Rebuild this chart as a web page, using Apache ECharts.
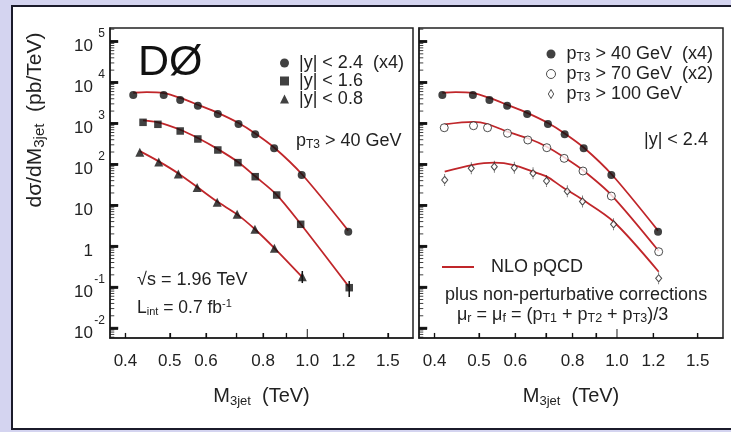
<!DOCTYPE html>
<html><head><meta charset="utf-8">
<script src="https://cdn.jsdelivr.net/npm/echarts@6/dist/echarts.min.js"></script>
<style>
html,body{margin:0;padding:0;background:#d4d4f0;overflow:hidden;}
#frame{position:absolute;left:11px;top:5px;width:740px;height:421px;border:2px solid #1b1b2b;background:#fff;}
#c{position:absolute;left:0;top:0;width:731px;height:432px;}
</style>
</head><body><div id="frame"></div><div id="c"></div>
<script>
// ---------- axes / ticks ----------
const X_MIN = 0.370, X_MAX = 1.703;
const Y_MIN = 0.00573, Y_MAX = 213800;
const X_EDGE = 0.3705, Y_EDGE = 0.00575;   // just inside the axis extent
const xTickValues = [0.4, 0.5, 0.6, 0.7, 0.8, 0.9, 1.2, 1.5];
const xLongTickValues = [1.0];
const xLabelValues = [0.4, 0.5, 0.6, 0.8, 1.0, 1.2, 1.5];
const yMajorValues = [1e-2, 1e-1, 1, 10, 100, 1000, 1e4, 1e5];
const yMinorMult = [2, 3, 4, 5, 6, 7, 8, 9];
const yMinorDecades = [1e-3, 1e-2, 1e-1, 1, 10, 100, 1000, 1e4, 1e5];

// ---------- data: left panel (pT3 > 40 GeV) ----------
const y24X = [0.416, 0.485, 0.527, 0.576, 0.637, 0.707, 0.769, 0.846, 0.972, 1.229];
const y24  = [4935, 4935, 3724, 2704, 1687, 966, 541, 246, 54.8, 2.26];      // |y|<2.4 (x4)
const y16X = [0.437, 0.471, 0.527, 0.576, 0.637, 0.705, 0.769, 0.857, 0.967, 1.235];
const y16  = [1062, 950, 652, 416, 224, 110, 49.9, 17.8, 3.43, 0.097];      // |y|<1.6
const y08X = [0.430, 0.473, 0.522, 0.574, 0.635, 0.702, 0.768, 0.847, 0.975];
const y08  = [198, 114, 58.1, 27.2, 11.9, 6.0, 2.60, 0.887, 0.179];          // |y|<0.8
// error bars [x, low, high]
const errBars = [[1.235, 0.0574, 0.141], [0.975, 0.126, 0.248]];

// ---------- data: right panel (|y| < 2.4) ----------
const pt40X = y24X, pt40 = y24;                                              // pT3>40 (x4)
const pt70X = [0.420, 0.4865, 0.522, 0.577, 0.639, 0.703, 0.767, 0.843, 0.972, 1.233];
const pt70  = [784, 877, 784, 573, 393, 255, 140, 68.7, 16.8, 0.734];        // pT3>70 (x2)
const pt100X = [0.421, 0.481, 0.540, 0.597, 0.656, 0.702, 0.779, 0.841, 0.983, 1.233];
const pt100  = [41.4, 80, 87.5, 82.6, 60.4, 39.2, 21.9, 12.4, 3.43, 0.164];  // pT3>100

// ---------- NLO pQCD curves ----------
const nlo24X = [0.416, 0.445, 0.485, 0.527, 0.576, 0.637, 0.707, 0.769, 0.846, 0.972, 1.229];
const nlo24  = [5600, 5800, 5500, 4200, 2850, 1800, 1020, 570, 258, 58, 2.4];
const nlo16X = [0.437, 0.471, 0.527, 0.576, 0.637, 0.705, 0.769, 0.857, 0.967, 1.235];
const nlo16  = [1180, 1060, 700, 440, 235, 114, 51, 18, 3.5, 0.1];
const nlo08X = [0.430, 0.473, 0.522, 0.574, 0.635, 0.702, 0.768, 0.847, 0.975];
const nlo08  = [210, 118, 60, 28, 12.3, 6.0, 2.6, 0.9, 0.175];
const nlo70X = [0.420, 0.4865, 0.522, 0.577, 0.639, 0.703, 0.767, 0.843, 0.972, 1.233];
const nlo70  = [950, 1090, 966, 627, 433, 269, 148, 71.5, 17.8, 0.764];
const nlo100X = [0.421, 0.482, 0.540, 0.596, 0.655, 0.703, 0.758, 0.839, 0.984, 1.233];
const nlo100  = [66, 96, 110, 96, 66, 50, 28.4, 14, 3.96, 0.238];

// ---------- styles ----------
const FONT = '"Liberation Sans", Arial, Helvetica, sans-serif';
const INK = '#111';
const TXT = '#222';
const RED = '#c0262a';

const zip = (xs, ys) => xs.map((x, i) => [x, ys[i]]);
const yMinorValues = [];
yMinorDecades.forEach(d => yMinorMult.forEach(m => { const v = m * d; if (v > Y_MIN && v < Y_MAX) yMinorValues.push(v); }));

function yFmt(v) {
  const e = Math.round(Math.log10(v));
  if (e === 1) return '{b|10}{s| }';
  if (e === 0) return '{b|1}{s| }';
  return '{b|10}{s|' + e + '}';
}
const yRich = {
  b: {fontSize: 17, lineHeight: 17, fontFamily: FONT, color: TXT, padding: [10, 0, 0, 0]},
  s: {fontSize: 12, lineHeight: 12, fontFamily: FONT, color: TXT, width: 12, align: 'right', padding: [0, 0, 15, 0]}
};

function xAxis(g) {
  return {
    type: 'log', gridIndex: g, min: X_MIN, max: X_MAX, position: 'bottom',
    axisLine: {show: true, lineStyle: {color: '#222', width: 1.5}}, splitLine: {show: false}, minorTick: {show: false},
    axisTick: {show: true, inside: true, length: 5, customValues: xTickValues, lineStyle: {color: INK, width: 1.2}},
    axisLabel: {show: true, customValues: xLabelValues, formatter: v => Number(v).toFixed(1),
      fontSize: 17, fontFamily: FONT, color: TXT, margin: 15},
    name: '{n|M}{s|3jet}{n|  (TeV)}', nameLocation: 'middle', nameGap: 47,
    nameTextStyle: {rich: {
      n: {fontSize: 20, lineHeight: 22, fontFamily: FONT, color: TXT},
      s: {fontSize: 13, lineHeight: 13, fontFamily: FONT, color: TXT, padding: [10, 0, 0, 0]}
    }}
  };
}
function yAxis(g, labels) {
  return {
    type: 'log', gridIndex: g, min: Y_MIN, max: Y_MAX, position: 'left',
    axisLine: {show: true, lineStyle: {color: '#222', width: 1.5}}, splitLine: {show: false}, minorTick: {show: false},
    axisTick: {show: true, inside: true, length: 8, customValues: yMajorValues, lineStyle: {color: INK, width: 2.6}},
    axisLabel: {show: labels, customValues: yMajorValues, formatter: yFmt, margin: 5, rich: yRich}
  };
}

// tick marks as scatter marks (rect symbols) placed by the axis scales at the axis edge
function hTicks(g, values, len, width) {
  return {type: 'scatter', xAxisIndex: g, yAxisIndex: g, data: values.map(v => [X_EDGE, v]),
    symbol: 'rect', symbolSize: [len, width], symbolOffset: [len / 2, 0],
    itemStyle: {color: INK}, z: 6, silent: true, clip: false};
}
function vTicks(g, values, len, width) {
  return {type: 'scatter', xAxisIndex: g, yAxisIndex: g, data: values.map(v => [v, Y_EDGE]),
    symbol: 'rect', symbolSize: [width, len], symbolOffset: [0, -len / 2],
    itemStyle: {color: INK}, z: 6, silent: true, clip: false};
}

const DIAMOND = 'path://M0,0L0,3M0,3L3,7.5L0,12L-3,7.5ZM0,12L0,15';
const DIAMOND_ICON = 'path://M0,0L3,5L0,10L-3,5Z';

function curve(name, xs, ys, g) {
  return {name, type: 'line', xAxisIndex: g, yAxisIndex: g, data: zip(xs, ys), smooth: 0.3,
    symbol: 'none', showSymbol: false, lineStyle: {color: RED, width: 1.8}, itemStyle: {color: RED}, z: 2, silent: true};
}
function pts(name, xs, ys, g, symbol, size, style) {
  return {name, type: 'scatter', xAxisIndex: g, yAxisIndex: g, data: zip(xs, ys), symbol, symbolSize: size,
    itemStyle: style, z: 4, silent: true};
}

const filled = {color: INK};
const hollow = {color: '#fff', borderColor: '#222', borderWidth: 1};

const rLegend = {
  'pT3 > 40 GeV  (x4)': '{g| }{t|p}{s|T3}{t| > 40 GeV  (x4)}',
  'pT3 > 70 GeV  (x2)': '{g| }{t|p}{s|T3}{t| > 70 GeV  (x2)}',
  'pT3 > 100 GeV': '{g| }{t|p}{s|T3}{t| > 100 GeV}'
};

const baseGraphic = [
  {type: 'text', x: 35, y: 120, rotation: Math.PI / 2,
   style: {text: '{a|dσ/dM}{s|3jet}{a|  (pb/TeV)}', align: 'center', verticalAlign: 'middle',
     rich: {a: {fontSize: 21, lineHeight: 22, fontFamily: FONT, fill: TXT},
            s: {fontSize: 15, lineHeight: 15, fontFamily: FONT, fill: TXT, padding: [9, 0, 0, 0]}}}},
  {type: 'text', x: 138, y: 63, style: {text: 'DØ', fontSize: 43, fontFamily: FONT, fill: INK, verticalAlign: 'middle'}},
  {type: 'text', x: 296, y: 141, style: {text: '{a|p}{s|T3}{a| > 40 GeV}', verticalAlign: 'middle',
     rich: {a: {fontSize: 18, lineHeight: 20, fontFamily: FONT, fill: TXT},
            s: {fontSize: 12, lineHeight: 12, fontFamily: FONT, fill: TXT, padding: [8, 0, 0, 0]}}}},
  {type: 'text', x: 137, y: 280, style: {text: '√s = 1.96 TeV', fontSize: 18, fontFamily: FONT, fill: TXT, verticalAlign: 'middle'}},
  {type: 'text', x: 137, y: 308, style: {text: '{a|L}{s|int}{a| = 0.7 fb}{p|-1}', verticalAlign: 'middle',
     rich: {a: {fontSize: 17.5, lineHeight: 20, fontFamily: FONT, fill: TXT},
            s: {fontSize: 11, lineHeight: 11, fontFamily: FONT, fill: TXT, padding: [8, 0, 0, 0]},
            p: {fontSize: 11, lineHeight: 11, fontFamily: FONT, fill: TXT, padding: [0, 0, 9, 0]}}}},
  {type: 'text', x: 644, y: 140, style: {text: '|y| < 2.4', fontSize: 18, fontFamily: FONT, fill: TXT, verticalAlign: 'middle'}},
  {type: 'text', x: 445, y: 295, style: {text: 'plus non-perturbative corrections', fontSize: 18, fontFamily: FONT, fill: TXT, verticalAlign: 'middle'}},
  {type: 'text', x: 457, y: 315, style: {
     text: '{a|μ}{s|r}{a| = μ}{s|f}{a| = (p}{s|T1}{a| + p}{s|T2}{a| + p}{s|T3}{a|)/3}', verticalAlign: 'middle',
     rich: {a: {fontSize: 18, lineHeight: 20, fontFamily: FONT, fill: TXT},
            s: {fontSize: 12.5, lineHeight: 12, fontFamily: FONT, fill: TXT, padding: [8, 0, 0, 0]}}}}
];

const option = {
  animation: false,
  backgroundColor: 'transparent',
  grid: [
    {left: 110, top: 28, width: 303, height: 310, show: true, borderColor: '#222', borderWidth: 1.5, backgroundColor: 'rgba(0,0,0,0)'},
    {left: 419, top: 28, width: 304, height: 310, show: true, borderColor: '#222', borderWidth: 1.5, backgroundColor: 'rgba(0,0,0,0)'}
  ],
  xAxis: [xAxis(0), xAxis(1)],
  yAxis: [yAxis(0, true), yAxis(1, false)],
  legend: [
    {data: ['|y| < 2.4  (x4)', '|y| < 1.6', '|y| < 0.8'], orient: 'vertical', left: 280, top: 54, padding: 0,
     itemWidth: 9, itemHeight: 9, itemGap: 0, selectedMode: false,
     formatter: n => '{g| }{t|' + n + '}',
     textStyle: {rich: {g: {width: 5}, t: {fontSize: 18, lineHeight: 18, fontFamily: FONT, color: TXT}}}},
    {data: ['pT3 > 40 GeV  (x4)', 'pT3 > 70 GeV  (x2)', {name: 'pT3 > 100 GeV', icon: DIAMOND_ICON}],
     orient: 'vertical', left: 546, top: 44, padding: 0,
     itemWidth: 9, itemHeight: 9, itemGap: 0, selectedMode: false, itemStyle: {borderWidth: 1},
     formatter: n => rLegend[n],
     textStyle: {rich: {
       g: {width: 6},
       t: {fontSize: 18, lineHeight: 21, fontFamily: FONT, color: TXT},
       s: {fontSize: 12, lineHeight: 12, fontFamily: FONT, color: TXT, padding: [8, 0, 0, 0]}
     }}},
    {data: [{name: 'NLO pQCD', icon: 'rect'}], orient: 'vertical', left: 442, top: 258, padding: 0,
     itemWidth: 32, itemHeight: 2, selectedMode: false,
     formatter: n => '{g| }{t|' + n + '}',
     textStyle: {rich: {g: {width: 12}, t: {fontSize: 18, lineHeight: 20, fontFamily: FONT, color: TXT}}}}
  ],
  graphic: baseGraphic,
  series: [
    hTicks(0, yMajorValues, 8, 2.6), hTicks(0, yMinorValues, 4, 1),
    vTicks(0, xTickValues, 5, 1.2), vTicks(0, xLongTickValues, 9, 1.2),
    hTicks(1, yMajorValues, 8, 2.6), hTicks(1, yMinorValues, 4, 1),
    vTicks(1, xTickValues, 5, 1.2), vTicks(1, xLongTickValues, 9, 1.2),
    curve('c24', nlo24X, nlo24, 0),
    curve('c16', nlo16X, nlo16, 0),
    curve('c08', nlo08X, nlo08, 0),
    pts('|y| < 2.4  (x4)', y24X, y24, 0, 'circle', 8, filled),
    pts('|y| < 1.6', y16X, y16, 0, 'rect', 7.5, filled),
    pts('|y| < 0.8', y08X, y08, 0, 'triangle', 9, filled),
    {type: 'custom', xAxisIndex: 0, yAxisIndex: 0, data: errBars, encode: {x: 0, y: [1, 2]}, z: 5, silent: true,
     renderItem: (params, api) => {
       const p1 = api.coord([api.value(0), api.value(1)]);
       const p2 = api.coord([api.value(0), api.value(2)]);
       return {type: 'line', shape: {x1: p1[0], y1: p1[1], x2: p2[0], y2: p2[1]}, style: {stroke: INK, lineWidth: 1.5}};
     }},
    curve('NLO pQCD', nlo24X, nlo24, 1),
    curve('c70', nlo70X, nlo70, 1),
    curve('c100', nlo100X, nlo100, 1),
    pts('pT3 > 40 GeV  (x4)', pt40X, pt40, 1, 'circle', 8, filled),
    pts('pT3 > 70 GeV  (x2)', pt70X, pt70, 1, 'circle', 8, hollow),
    pts('pT3 > 100 GeV', pt100X, pt100, 1, DIAMOND, [6, 12], hollow)
  ]
};

const chart = echarts.init(document.getElementById('c'), null, {renderer: 'canvas'});
chart.setOption(option);
</script>
</body></html>
